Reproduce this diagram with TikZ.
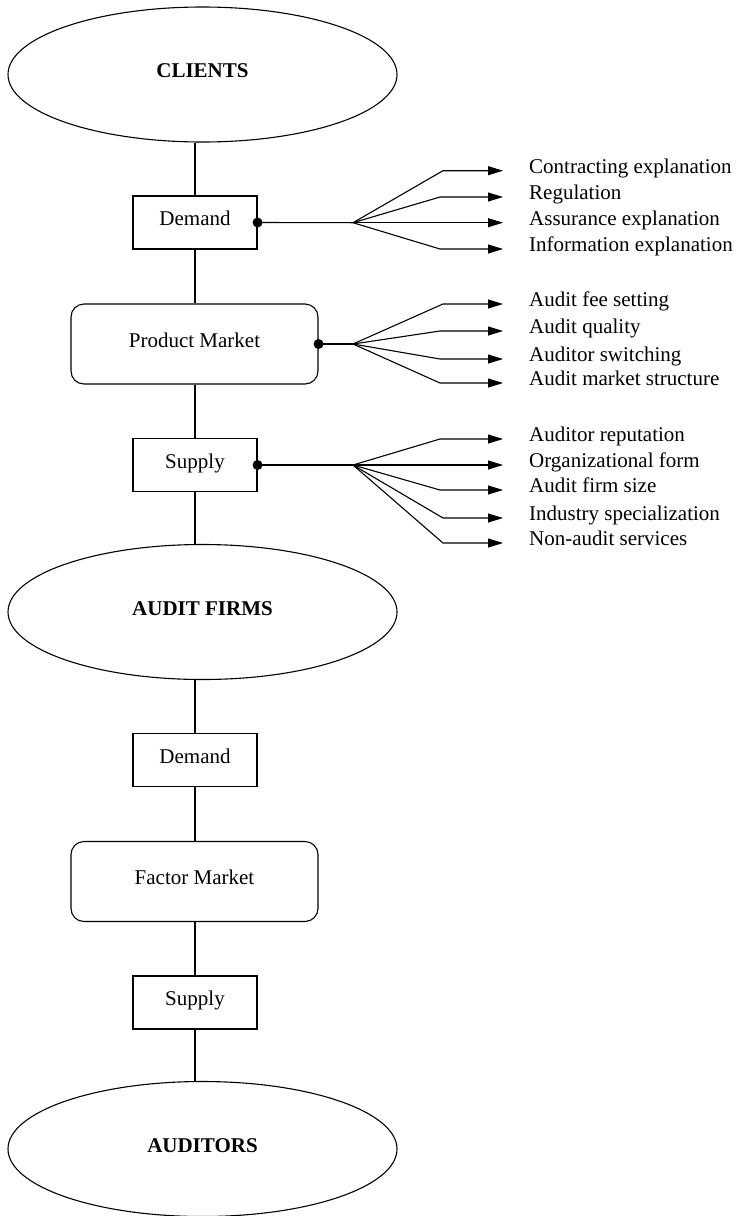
\documentclass[tikz,border=0pt]{standalone}
\usepackage{fontspec}
\setmainfont{Liberation Serif}
\usetikzlibrary{shapes.geometric,arrows.meta}
\tikzset{
  txt/.style={font=\fontsize{21}{24}\selectfont, text height=0.68em, text depth=0.22em},
  ctxt/.style={font=\fontsize{21}{24}\selectfont, text height=0.68em, text depth=0em},
  oval/.style={ellipse, draw, line width=1.1pt, minimum width=389, minimum height=135, inner sep=0, ctxt, font=\fontsize{21}{24}\selectfont\bfseries},
  sqbox/.style={rectangle, draw, line width=1.1pt, minimum width=124, minimum height=53, inner sep=0, ctxt},
  rbox/.style={rectangle, rounded corners=13, draw, line width=1.1pt, minimum width=247, minimum height=80, inner sep=0, ctxt},
  lbl/.style={anchor=west, inner xsep=26, inner ysep=0, txt},
  conn/.style={line width=1.1pt},
  arr/.style={line width=1.1pt, -{Triangle[length=15,width=9]}},
}
\begin{document}
\begin{tikzpicture}[x=1pt,y=-1pt]
\useasboundingbox (0,0) rectangle (737,1216);
% main column
\node[oval] (clients) at (202.5,74.5) {CLIENTS};
\node[sqbox] (d1) at (195,222.5) {Demand};
\node[rbox] (pm) at (194.5,344) {Product Market};
\node[sqbox] (s1) at (195,465) {Supply};
\node[oval] (firms) at (202.5,612) {AUDIT FIRMS};
\node[sqbox] (d2) at (195,760) {Demand};
\node[rbox] (fm) at (194.5,881.5) {Factor Market};
\node[sqbox] (s2) at (195,1002.5) {Supply};
\node[oval] (auditors) at (202.5,1149) {AUDITORS};

\draw[conn] (d1.north) -- (d1.north |- clients.south);
\draw[conn] (d1.south) -- (d1.south |- pm.north);
\draw[conn] (s1.north) -- (s1.north |- pm.south);
\draw[conn] (s1.south) -- (s1.south |- firms.north);
\draw[conn] (d2.north) -- (d2.north |- firms.south);
\draw[conn] (d2.south) -- (d2.south |- fm.north);
\draw[conn] (s2.north) -- (s2.north |- fm.south);
\draw[conn] (s2.south) -- (s2.south |- auditors.north);

% fan 1 (Demand)
\coordinate (f1) at (353,222.7);
\node[lbl] (a1) at (503,170.7) {Contracting explanation};
\node[lbl] (a2) at (503,197) {Regulation};
\node[lbl] (a3) at (503,222.7) {Assurance explanation};
\node[lbl] (a4) at (503,249) {Information explanation};
\coordinate (ca1) at (443,170.7);
\coordinate (ca2) at (440,197);
\coordinate (ca4) at (440,249);
\draw[conn] (d1.east) -- (f1);
\draw[arr] (f1) -- (ca1) -- (a1.west);
\draw[arr] (f1) -- (ca2) -- (a2.west);
\draw[arr] (f1) -- (a3.west);
\draw[arr] (f1) -- (ca4) -- (a4.west);
\fill (d1.east) circle (5);

% fan 2 (Product Market)
\coordinate (f2) at (353,344);
\node[lbl] (b1) at (503,304) {Audit fee setting};
\node[lbl] (b2) at (503,331) {Audit quality};
\node[lbl] (b3) at (503,359) {Auditor switching};
\node[lbl] (b4) at (503,383) {Audit market structure};
\coordinate (cb1) at (443,304);
\coordinate (cb2) at (440,331);
\coordinate (cb3) at (440,359);
\coordinate (cb4) at (440,383);
\draw[conn] (pm.east) -- (f2);
\draw[arr] (f2) -- (cb1) -- (b1.west);
\draw[arr] (f2) -- (cb2) -- (b2.west);
\draw[arr] (f2) -- (cb3) -- (b3.west);
\draw[arr] (f2) -- (cb4) -- (b4.west);
\fill (pm.east) circle (5);

% fan 3 (Supply)
\coordinate (f3) at (353,465);
\node[lbl] (c1) at (503,439) {Auditor reputation};
\node[lbl] (c2) at (503,465) {Organizational form};
\node[lbl] (c3) at (503,490) {Audit firm size};
\node[lbl] (c4) at (503,518) {Industry specialization};
\node[lbl] (c5) at (503,543) {Non-audit services};
\coordinate (cc1) at (440,439);
\coordinate (cc3) at (440,490);
\coordinate (cc4) at (443,518);
\coordinate (cc5) at (443,543);
\draw[conn] (s1.east) -- (f3);
\draw[arr] (f3) -- (cc1) -- (c1.west);
\draw[arr] (f3) -- (c2.west);
\draw[arr] (f3) -- (cc3) -- (c3.west);
\draw[arr] (f3) -- (cc4) -- (c4.west);
\draw[arr] (f3) -- (cc5) -- (c5.west);
\fill (s1.east) circle (5);
\end{tikzpicture}
\end{document}
